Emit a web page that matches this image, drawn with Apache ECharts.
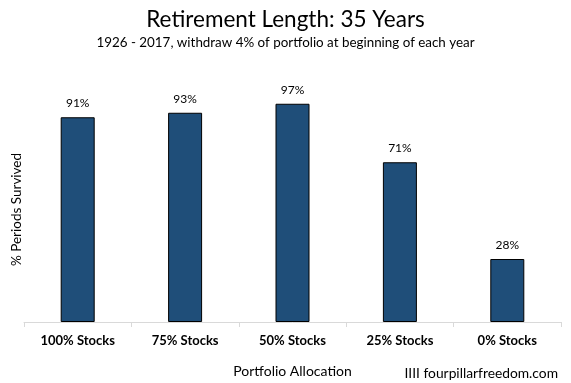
<!DOCTYPE html>
<html><head><meta charset="utf-8">
<script src="https://cdn.jsdelivr.net/npm/echarts@6/dist/echarts.min.js"></script>
<style>html,body{margin:0;padding:0;background:#fff}#c{width:571px;height:383px}</style>
</head><body><div id="c"></div>
<script>
const categories = ['100% Stocks','75% Stocks','50% Stocks','25% Stocks','0% Stocks'];
const survived = [91, 93, 97, 71, 28];
const FONT = 'Lato';
const chart = echarts.init(document.getElementById('c'));
chart.setOption({
  animation: false,
  backgroundColor: '#fff',
  title: [
    {text: 'Retirement Length: 35 Years', left: 'center', top: 3,
     textStyle: {fontFamily: FONT, fontSize: 22.5, fontWeight: 'normal', color: '#000'}},
    {text: '1926 - 2017, withdraw 4% of portfolio at beginning of each year', left: 'center', top: 31,
     textStyle: {fontFamily: FONT, fontSize: 13.4, fontWeight: 'normal', color: '#000'}},
    {text: 'IIII fourpillarfreedom.com', right: 8, top: 362,
     textStyle: {fontFamily: FONT, fontSize: 13.8, fontWeight: 'normal', color: '#000'}}
  ],
  grid: {left: 24, right: 10, top: 97, bottom: 61},
  xAxis: {
    type: 'category', data: categories,
    name: 'Portfolio Allocation', nameLocation: 'middle', nameGap: 42,
    nameTextStyle: {fontFamily: FONT, fontSize: 14, color: '#000'},
    axisLine: {lineStyle: {color: '#d9d9d9'}},
    axisTick: {show: true, length: 5, lineStyle: {color: '#d9d9d9'}},
    axisLabel: {fontFamily: FONT, fontSize: 13, fontWeight: 'bold', color: '#000', margin: 12}
  },
  yAxis: {
    type: 'value', min: 0, max: 100,
    name: '% Periods Survived', nameLocation: 'middle', nameGap: 0, nameRotate: 90,
    nameTextStyle: {fontFamily: FONT, fontSize: 13.5, color: '#000'},
    axisLine: {show: false}, axisTick: {show: false}, axisLabel: {show: false}, splitLine: {show: false}
  },
  series: [{
    type: 'bar', data: survived, barWidth: 34,
    itemStyle: {color: '#1f4e79', borderColor: '#000', borderWidth: 1},
    label: {show: true, position: 'top', distance: 8, formatter: p => p.value + '%',
      fontFamily: FONT, fontSize: 12, color: '#000'}
  }]
});
</script></body></html>
